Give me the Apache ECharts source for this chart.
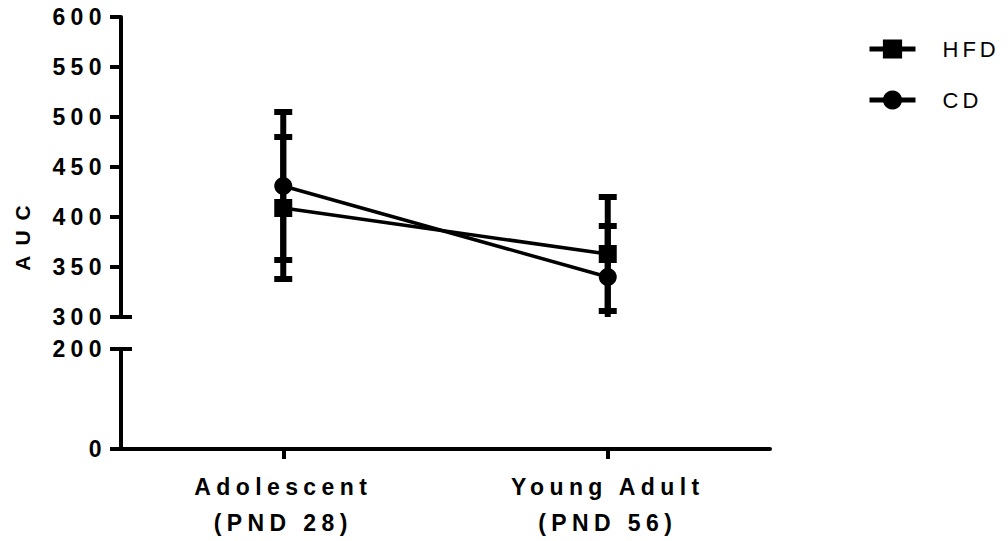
<!DOCTYPE html>
<html>
<head>
<meta charset="utf-8">
<script src="https://cdn.jsdelivr.net/npm/echarts@6/dist/echarts.min.js"></script>
<style>
html,body{margin:0;padding:0;background:#fff;}
#chart{width:1008px;height:541px;}
#chart text{letter-spacing:5.4px;}
</style>
</head>
<body>
<div id="chart"></div>
<script>
// ---- data ----
var categories = ['Adolescent\n(PND 28)', 'Young Adult\n(PND 56)'];
var seriesNames = ['HFD', 'CD'];
var hfdMean = [409, 363];
var hfdErr = [71, 57];
var cdMean = [431, 340];
var cdErr = [74, 51];
var topTicks = {min: 300, max: 600, interval: 50};
var bottomTicks = {min: 0, max: 200, interval: 200};
var yTitle = 'AUC';

var FONT = 'Liberation Sans, Arial, sans-serif';
var BLACK = '#000';

function errData(means, errs) {
  return means.map(function (m, i) { return [i, m - errs[i], m + errs[i]]; });
}

var chart = echarts.init(document.getElementById('chart'), null, {renderer: 'svg'});

function errorRender(params, api) {
  var x = api.value(0);
  var low = api.value(1);
  var high = api.value(2);
  var lowC = Math.max(low, topTicks.min);
  var pHigh = api.coord([x, high]);
  var pLow = api.coord([x, lowC]);
  var capW = 18;
  var children = [{
    type: 'line',
    shape: {x1: pHigh[0], y1: pHigh[1], x2: pLow[0], y2: pLow[1]},
    style: {stroke: BLACK, lineWidth: 6}
  }, {
    type: 'line',
    shape: {x1: pHigh[0] - capW / 2, y1: pHigh[1], x2: pHigh[0] + capW / 2, y2: pHigh[1]},
    style: {stroke: BLACK, lineWidth: 6}
  }];
  if (low >= topTicks.min) {
    children.push({
      type: 'line',
      shape: {x1: pLow[0] - capW / 2, y1: pLow[1], x2: pLow[0] + capW / 2, y2: pLow[1]},
      style: {stroke: BLACK, lineWidth: 6}
    });
  }
  return {type: 'group', children: children};
}

var yAxisCommon = {
  type: 'value',
  axisLine: {show: true, lineStyle: {color: BLACK, width: 4}},
  axisTick: {show: true, length: 11, lineStyle: {color: BLACK, width: 4}},
  splitLine: {show: false},
  axisLabel: {color: BLACK, fontSize: 23, fontWeight: 'bold', fontFamily: FONT, margin: 14}
};

var option = {
  animation: false,
  backgroundColor: '#fff',
  grid: [
    {left: 121, right: 238, top: 17, height: 300},
    {left: 121, right: 238, top: 349, height: 100}
  ],
  xAxis: [
    {type: 'category', gridIndex: 0, data: categories, show: false, boundaryGap: true},
    {type: 'category', gridIndex: 1, data: categories, boundaryGap: true,
      axisLine: {show: true, lineStyle: {color: BLACK, width: 4}},
      axisTick: {show: true, length: 10, alignWithLabel: true, lineStyle: {color: BLACK, width: 4}},
      axisLabel: {color: BLACK, fontSize: 23, fontWeight: 'bold', fontFamily: FONT, margin: 20, lineHeight: 36}
    }
  ],
  yAxis: [
    Object.assign({}, yAxisCommon, {gridIndex: 0, min: topTicks.min, max: topTicks.max, interval: topTicks.interval}),
    Object.assign({}, yAxisCommon, {gridIndex: 1, min: bottomTicks.min, max: bottomTicks.max, interval: bottomTicks.interval})
  ],
  legend: {
    orient: 'vertical',
    left: 862,
    top: 33,
    itemWidth: 46,
    itemHeight: 24,
    itemGap: 29,
    data: seriesNames,
    lineStyle: {width: 5},
    textStyle: {color: BLACK, fontSize: 22, fontFamily: FONT, padding: [0, 0, 0, 22]}
  },
  series: [
    {type: 'custom', name: 'HFD-err', xAxisIndex: 0, yAxisIndex: 0, renderItem: errorRender, data: errData(hfdMean, hfdErr), z: 1},
    {type: 'custom', name: 'CD-err', xAxisIndex: 0, yAxisIndex: 0, renderItem: errorRender, data: errData(cdMean, cdErr), z: 1},
    {type: 'line', name: 'HFD', xAxisIndex: 0, yAxisIndex: 0, data: hfdMean, symbol: 'rect', symbolSize: 18,
      itemStyle: {color: BLACK}, lineStyle: {color: BLACK, width: 3.5}, z: 3},
    {type: 'line', name: 'CD', xAxisIndex: 0, yAxisIndex: 0, data: cdMean, symbol: 'circle', symbolSize: 18,
      itemStyle: {color: BLACK}, lineStyle: {color: BLACK, width: 3.5}, z: 3}
  ]
};
chart.setOption(option);

// axis-break marks and the shared y axis title
var leftX = 121;
var yTopBreak = chart.convertToPixel({yAxisIndex: 0}, topTicks.min);
var yBotBreak = chart.convertToPixel({yAxisIndex: 1}, bottomTicks.max);
var yTop = chart.convertToPixel({yAxisIndex: 0}, topTicks.max);
var yBot = chart.convertToPixel({yAxisIndex: 1}, bottomTicks.min);
chart.setOption({
  graphic: [
    {type: 'line', shape: {x1: leftX, y1: yTopBreak, x2: leftX + 11, y2: yTopBreak}, style: {stroke: BLACK, lineWidth: 4}},
    {type: 'line', shape: {x1: leftX, y1: yBotBreak, x2: leftX + 11, y2: yBotBreak}, style: {stroke: BLACK, lineWidth: 4}},
    {type: 'text', x: 22, y: (yTop + yBot) / 2, rotation: Math.PI / 2,
      style: {text: yTitle, font: 'bold 21px ' + FONT, fill: BLACK, textAlign: 'center', textVerticalAlign: 'middle', verticalAlign: 'middle'}}
  ]
});

function tuneSpacing() {
  var texts = document.querySelectorAll('#chart text');
  texts.forEach(function (t) {
    var s = t.textContent;
    if (s === 'HFD' || s === 'CD') t.style.letterSpacing = '4px';
    else if (s === yTitle) t.style.letterSpacing = '10px';
  });
}
tuneSpacing();
setTimeout(tuneSpacing, 50);
setTimeout(tuneSpacing, 300);
</script>
</body>
</html>
